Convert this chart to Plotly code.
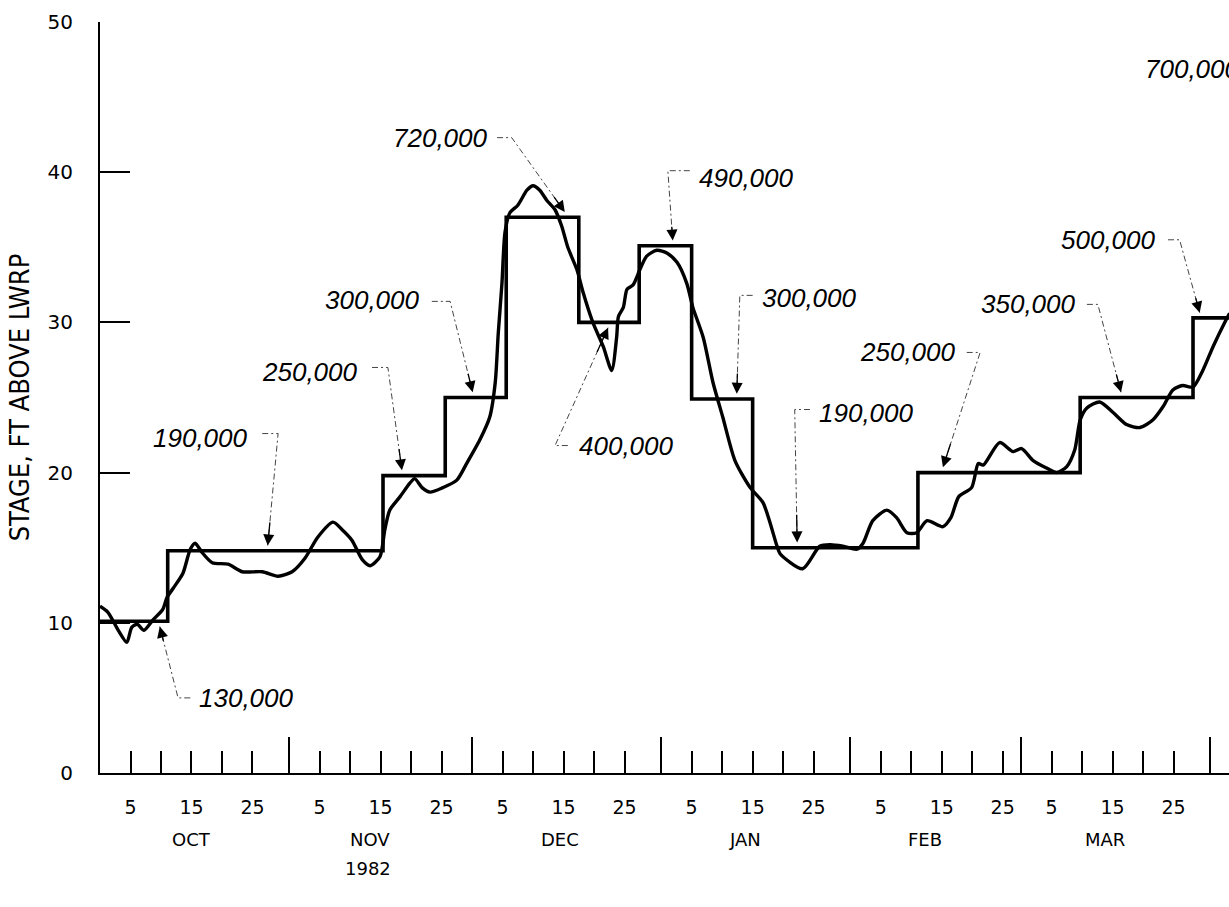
import pandas as pd
import plotly.graph_objects as go

BASE = pd.Timestamp("1982-09-30")  # day 0 of the season axis

# ---------------- data ----------------
# stepped stage computed from discharge: start day of each step (days after 30 Sep 1982) and level (ft)
step_start_day = [0, 11.1, 46.4, 56.6, 66.6, 78.5, 88.4, 97.0, 107.0, 134.1, 160.7, 179.2]
step_stage = [10.1, 14.8, 19.8, 25.0, 37.0, 30.0, 35.1, 24.9, 15.0, 20.0, 25.0, 30.3]
step_end_day = 185.2

# observed stage hydrograph
obs_day = [0.0, 1.3, 3.0, 4.4, 5.2, 6.1, 7.2, 8.7, 10.3, 11.0, 12.0, 13.6, 14.8, 15.6, 16.7,
           18.4, 21.0, 23.3, 26.6, 29.2, 31.5, 33.6, 35.7, 38.2, 39.7, 41.3, 43.0, 44.3, 45.9,
           46.7, 47.5, 49.2, 50.8, 51.6, 52.8, 54.1, 56.2, 58.5, 60.1, 62.3, 63.9, 64.8, 65.3,
           65.9, 66.4, 67.2, 68.5, 70.0, 71.0, 72.1, 73.3, 74.6, 75.7, 76.7, 78.2, 79.2, 80.8,
           82.5, 83.9, 84.7, 85.0, 85.8, 86.4, 87.4, 88.5, 89.6, 91.3, 93.0, 94.6, 96.2, 97.2,
           98.9, 100.5, 102.1, 104.1, 106.6, 108.7, 111.0, 111.5, 115.2, 118.0, 119.7, 121.8,
           124.1, 125.1, 126.7, 129.0, 130.6, 132.3, 133.9, 135.6, 138.2, 139.5, 140.8, 142.9,
           144.0, 144.8, 147.5, 149.7, 151.1, 153.0, 155.2, 156.8, 158.5, 159.8, 160.7, 161.8,
           163.9, 166.1, 168.3, 170.5, 172.6, 174.3, 175.9, 177.5, 179.2, 180.8, 182.5, 184.4,
           185.2]
obs_stage = [11.1, 10.7, 9.5, 8.7, 9.7, 9.9, 9.5, 10.2, 10.9, 11.7, 12.3, 13.3, 14.9, 15.3, 14.7,
             14.0, 13.9, 13.4, 13.4, 13.1, 13.4, 14.3, 15.7, 16.7, 16.2, 15.5, 14.2, 13.8, 14.4,
             16.2, 17.5, 18.4, 19.3, 19.6, 19.0, 18.7, 19.0, 19.5, 20.6, 22.2, 23.7, 26.0, 29.3,
             32.6, 36.0, 37.3, 37.8, 38.8, 39.1, 38.8, 38.1, 37.5, 36.4, 35.0, 33.5, 32.0, 30.0,
             28.4, 26.8, 29.0, 30.4, 31.0, 32.2, 32.5, 33.5, 34.4, 34.8, 34.6, 34.0, 32.6, 31.0,
             29.0, 26.0, 23.7, 20.8, 19.0, 18.0, 15.1, 14.6, 13.6, 15.1, 15.2, 15.1,
             14.9, 15.3, 16.8, 17.5, 17.0, 16.0, 16.0, 16.8, 16.4, 17.0, 18.4, 19.0,
             20.6, 20.5, 22.0, 21.4, 21.6, 20.8, 20.3, 20.0, 20.4, 21.5, 23.5, 24.3,
             24.7, 24.0, 23.2, 23.0, 23.5, 24.4, 25.5, 25.8, 25.7, 26.8, 28.4, 30.0,
             30.6]

# discharge labels (cfs) and the day of the step each one points at
flow_labels = ["130,000", "190,000", "250,000", "300,000", "720,000", "400,000", "490,000",
               "300,000", "190,000", "250,000", "350,000", "500,000", "700,000"]
flow_target_day = [9.8, 27.5, 49.5, 61.1, 76.2, 83.3, 93.9, 104.4, 114.3, 138.2, 167.4, 180.3, None]

month_names = ["OCT", "NOV", "DEC", "JAN", "FEB", "MAR"]
month_year_month = [(1982, 10), (1982, 11), (1982, 12), (1983, 1), (1983, 2), (1983, 3)]
tick_days_of_month = [5, 10, 15, 20, 25]
tick_day_labels = ["5", "", "15", "", "25"]
year_label = "1982"
y_ticks = [0, 10, 20, 30, 40, 50]
y_title = "STAGE, FT ABOVE LWRP"

# ---------------- helpers ----------------
def to_date(d):
    return BASE + pd.Timedelta(days=d)


def step_level_at(d):
    lvl = step_stage[0]
    for s, v in zip(step_start_day, step_stage):
        if d >= s:
            lvl = v
    return lvl


FONT_AX = "DejaVu Sans, Verdana, sans-serif"
FONT_LBL = "Liberation Sans, Arial, sans-serif"

fig = go.Figure()

# step series
fig.add_trace(go.Scatter(
    x=[to_date(d) for d in step_start_day + [step_end_day]],
    y=step_stage + [step_stage[-1]],
    mode="lines", line=dict(color="black", width=3.6, shape="hv"),
    hoverinfo="skip", showlegend=False))

# observed hydrograph
fig.add_trace(go.Scatter(
    x=[to_date(d) for d in obs_day], y=obs_stage,
    mode="lines", line=dict(color="black", width=3.4, shape="spline", smoothing=0.7),
    hoverinfo="skip", showlegend=False))

# ---------------- label layout (positions in axis units) ----------------
# (text anchor day, text stage, xanchor, dash start day, bend day, leader stage, side of line)
label_layout = [
    (15.9, 5.0, "left", 14.8, 12.8, 5.0, -1),
    (24.6, 22.3, "right", 26.6, 29.2, 22.6, 1),
    (42.6, 26.7, "right", 44.6, 47.2, 27.0, 1),
    (52.8, 31.5, "right", 54.4, 57.4, 31.4, 1),
    (63.9, 42.3, "right", 65.1, 67.5, 42.3, 1),
    (78.2, 21.8, "left", 76.7, 74.6, 21.8, -1),
    (97.9, 39.6, "left", 96.7, 93.1, 40.1, 1),
    (108.2, 31.6, "left", 107.0, 104.9, 31.8, 1),
    (117.5, 24.0, "left", 116.4, 113.9, 24.2, 1),
    (140.7, 28.0, "right", 142.1, 144.3, 28.0, 1),
    (160.3, 31.2, "right", 161.8, 163.6, 31.2, 1),
    (173.4, 35.5, "right", 175.1, 177.0, 35.5, 1),
    (171.0, 46.9, "left", None, None, None, 0),
]

lead_x, lead_y = [], []
annotations = []
for lab, tgt, (tx, ty, xa, d0, d1, ly, side) in zip(flow_labels, flow_target_day, label_layout):
    annotations.append(dict(
        x=to_date(tx), y=ty, xref="x", yref="y", text=f"<i>{lab}</i>", showarrow=False,
        xanchor=xa, yanchor="middle", font=dict(family=FONT_LBL, size=26, color="black")))
    if tgt is None:
        continue
    tip_y = step_level_at(tgt) + 0.35 * side
    lead_x += [to_date(d0), to_date(d1), to_date(tgt), None]
    lead_y += [ly, ly, tip_y, None]
    tail_d = tgt + 0.22 * (d1 - tgt)
    tail_s = tip_y + 0.22 * (ly - tip_y)
    annotations.append(dict(
        x=to_date(tgt), y=tip_y, xref="x", yref="y", ax=to_date(tail_d), ay=tail_s,
        axref="x", ayref="y", text="", showarrow=True, arrowhead=2, arrowsize=1.7,
        arrowwidth=1.3, arrowcolor="black"))

fig.add_trace(go.Scatter(
    x=lead_x, y=lead_y, mode="lines",
    line=dict(color="#444444", width=1, dash="6px,3px,2px,3px"),
    hoverinfo="skip", showlegend=False))

# month labels and year
month_label_day = [15.0, 44.3, 75.4, 105.7, 135.2, 164.8]
for name, d in zip(month_names, month_label_day):
    annotations.append(dict(
        x=to_date(d), y=-0.089, xref="x", yref="paper", text=name, showarrow=False,
        xanchor="center", yanchor="middle", font=dict(family=FONT_AX, size=18, color="black")))
annotations.append(dict(
    x=to_date(44.0), y=-0.127, xref="x", yref="paper", text=year_label, showarrow=False,
    xanchor="center", yanchor="middle", font=dict(family=FONT_AX, size=18, color="black")))

# ---------------- axes ----------------
tick_vals, tick_text, month_end_vals = [], [], []
for (yy, mm) in month_year_month:
    for dd, tl in zip(tick_days_of_month, tick_day_labels):
        tick_vals.append(pd.Timestamp(yy, mm, dd))
        tick_text.append(tl)
    month_end_vals.append(pd.Timestamp(yy, mm, 1) + pd.offsets.MonthEnd(0))

fig.update_layout(
    width=1229, height=907,
    margin=dict(l=100, r=0, t=22, b=134),
    paper_bgcolor="white", plot_bgcolor="white",
    annotations=annotations,
    xaxis=dict(
        type="date", range=[to_date(0), to_date(185.1)],
        showgrid=False, zeroline=False,
        showline=True, linecolor="black", linewidth=2,
        tickmode="array", tickvals=tick_vals, ticktext=tick_text,
        ticks="inside", ticklen=22, tickwidth=2, tickcolor="black",
        ticklabelstandoff=16,
        tickfont=dict(family=FONT_AX, size=19, color="black"),
        minor=dict(tickmode="array", tickvals=month_end_vals, ticks="inside",
                   ticklen=36, tickwidth=2.4, tickcolor="black", showgrid=False),
    ),
    yaxis=dict(
        range=[0, 50], showgrid=False, zeroline=False,
        showline=True, linecolor="black", linewidth=2,
        tickmode="array", tickvals=y_ticks,
        ticks="inside", ticklen=30, tickwidth=2, tickcolor="black",
        ticklabelstandoff=21,
        tickfont=dict(family=FONT_AX, size=20, color="black"),
        title=dict(text=y_title, standoff=10,
                   font=dict(family="DejaVu Sans Condensed, Liberation Sans Narrow, sans-serif",
                             size=27, color="black")),
    ),
)

fig.write_html("out.html", config={"displayModeBar": False},
               post_script="document.body.style.margin='0';")
